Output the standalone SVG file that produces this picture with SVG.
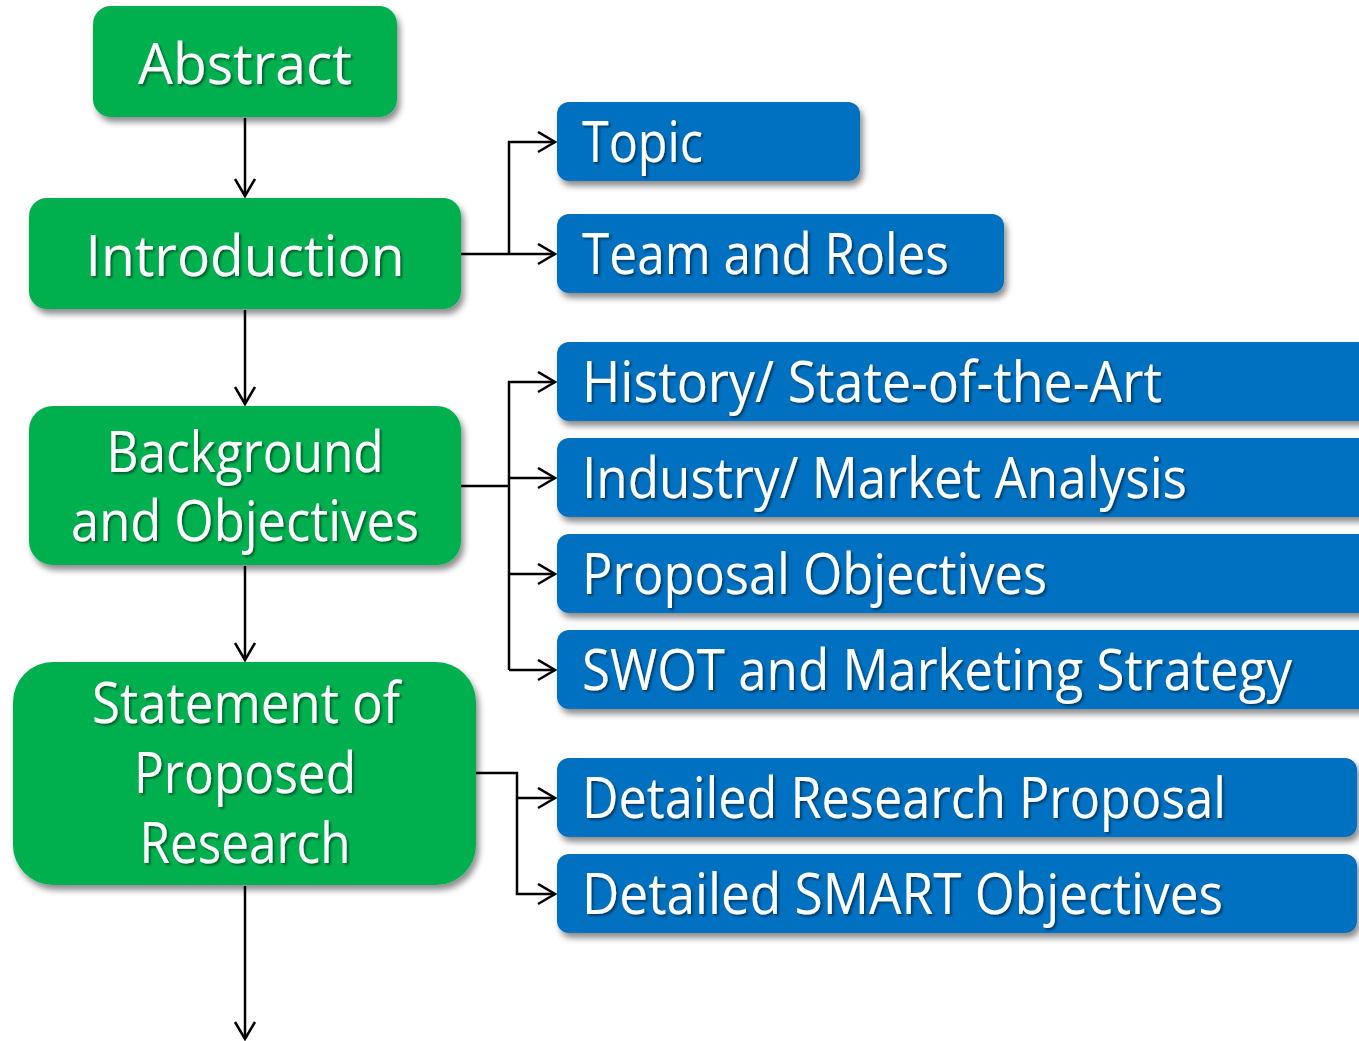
<svg xmlns="http://www.w3.org/2000/svg" width="1359" height="1041" viewBox="0 0 1359 1041">
<style>
.g{fill:#00B050;}
.b{fill:#0070C0;}
.box{filter:url(#sh);}
.t{font-family:"Open Sans","Liberation Sans",sans-serif;font-size:56px;fill:#fff;filter:url(#tsh);}
.c{text-anchor:middle;}
.conn{fill:none;stroke:#000;stroke-width:2.5;}
</style>
<defs>
<filter id="sh" x="-10%" y="-20%" width="130%" height="150%">
<feDropShadow dx="3" dy="5" stdDeviation="3" flood-color="#000" flood-opacity="0.45"/>
</filter>
<filter id="tsh" x="-5%" y="-20%" width="110%" height="150%">
<feDropShadow dx="2" dy="2" stdDeviation="1" flood-color="#000" flood-opacity="0.45"/>
</filter>
<marker id="arr" markerUnits="userSpaceOnUse" markerWidth="24" markerHeight="24" refX="18" refY="11" orient="auto">
<path d="M1,1 L18,11 L1,21" fill="none" stroke="#000" stroke-width="2.5"/>
</marker>
</defs>
<g id="connectors">
<path class="conn" d="M245,118 V196" marker-end="url(#arr)"/>
<path class="conn" d="M245,310 V404" marker-end="url(#arr)"/>
<path class="conn" d="M245,566 V660" marker-end="url(#arr)"/>
<path class="conn" d="M245,886 V1039" marker-end="url(#arr)"/>
<path class="conn" d="M461,254 H555" marker-end="url(#arr)"/>
<path class="conn" d="M509,254 V142 H555" marker-end="url(#arr)"/>
<path class="conn" d="M461,486 H509"/>
<path class="conn" d="M509,478 H555" marker-end="url(#arr)"/>
<path class="conn" d="M509,670 V382 H555" marker-end="url(#arr)"/>
<path class="conn" d="M509,574 H555" marker-end="url(#arr)"/>
<path class="conn" d="M509,670 H555" marker-end="url(#arr)"/>
<path class="conn" d="M476,773 H517 V894 H555" marker-end="url(#arr)"/>
<path class="conn" d="M517,798 H555" marker-end="url(#arr)"/>
</g>
<g id="abstract">
<rect class="g box" x="93" y="6" width="304" height="111" rx="18"/>
<text class="t c" x="245" y="84" textLength="214" lengthAdjust="spacingAndGlyphs">Abstract</text>
</g>
<g id="introduction">
<rect class="g box" x="29" y="198" width="432" height="111" rx="18"/>
<text class="t c" x="245" y="276" textLength="319" lengthAdjust="spacingAndGlyphs">Introduction</text>
</g>
<g id="background">
<rect class="g box" x="29" y="406" width="432" height="159" rx="24"/>
<text class="t c" x="245" y="472" textLength="277" lengthAdjust="spacingAndGlyphs">Background</text>
<text class="t c" x="245" y="541" textLength="348" lengthAdjust="spacingAndGlyphs">and Objectives</text>
</g>
<g id="statement">
<rect class="g box" x="13" y="662" width="463" height="223" rx="40"/>
<text class="t c" x="246" y="723" textLength="308" lengthAdjust="spacingAndGlyphs">Statement of</text>
<text class="t c" x="245" y="793" textLength="222" lengthAdjust="spacingAndGlyphs">Proposed</text>
<text class="t c" x="245" y="863" textLength="211" lengthAdjust="spacingAndGlyphs">Research</text>
</g>
<g id="topic">
<rect class="b box" x="557" y="102" width="303" height="79" rx="12"/>
<text class="t" x="582" y="162" textLength="121" lengthAdjust="spacingAndGlyphs">Topic</text>
</g>
<g id="team">
<rect class="b box" x="557" y="214" width="447" height="79" rx="12"/>
<text class="t" x="582" y="274" textLength="367" lengthAdjust="spacingAndGlyphs">Team and Roles</text>
</g>
<g id="history">
<rect class="b box" x="557" y="342" width="820" height="79" rx="12"/>
<text class="t" x="582" y="402" textLength="580" lengthAdjust="spacingAndGlyphs">History/ State-of-the-Art</text>
</g>
<g id="industry">
<rect class="b box" x="557" y="438" width="820" height="79" rx="12"/>
<text class="t" x="582" y="498" textLength="605" lengthAdjust="spacingAndGlyphs">Industry/ Market Analysis</text>
</g>
<g id="proposal">
<rect class="b box" x="557" y="534" width="820" height="79" rx="12"/>
<text class="t" x="582" y="594" textLength="465" lengthAdjust="spacingAndGlyphs">Proposal Objectives</text>
</g>
<g id="swot">
<rect class="b box" x="557" y="630" width="820" height="79" rx="12"/>
<text class="t" x="582" y="690" textLength="710" lengthAdjust="spacingAndGlyphs">SWOT and Marketing Strategy</text>
</g>
<g id="detailed-research">
<rect class="b box" x="557" y="758" width="800" height="79" rx="12"/>
<text class="t" x="582" y="818" textLength="644" lengthAdjust="spacingAndGlyphs">Detailed Research Proposal</text>
</g>
<g id="detailed-smart">
<rect class="b box" x="557" y="854" width="800" height="79" rx="12"/>
<text class="t" x="582" y="914" textLength="641" lengthAdjust="spacingAndGlyphs">Detailed SMART Objectives</text>
</g>
</svg>
